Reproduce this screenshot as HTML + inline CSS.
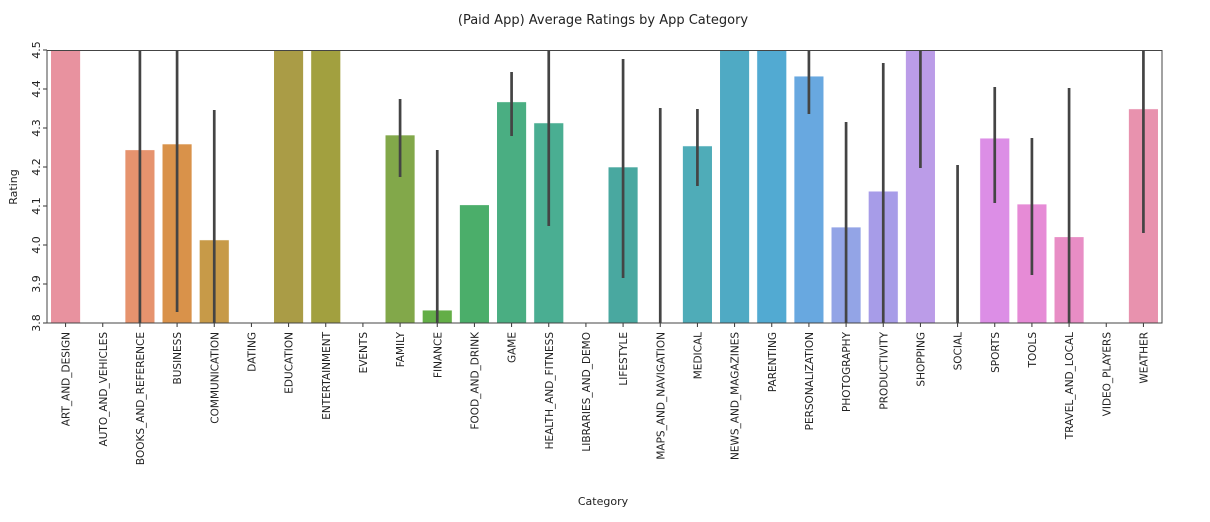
<!DOCTYPE html>
<html><head><meta charset="utf-8"><style>
html,body{margin:0;padding:0;background:#fff;}
svg{display:block;font-family:"DejaVu Sans","Liberation Sans",sans-serif;}
</style></head><body>
<svg id="s" width="1210" height="522" xmlns="http://www.w3.org/2000/svg">
<text x="603" y="24" font-size="13" text-anchor="middle" fill="#222">(Paid App) Average Ratings by App Category</text>
<text x="603" y="505" font-size="11" text-anchor="middle" fill="#222">Category</text>
<text transform="translate(17,187) rotate(-90)" font-size="11" text-anchor="middle" fill="#222">Rating</text>
</svg>
<script>
var s=document.getElementById('s'),NS='http://www.w3.org/2000/svg';
function el(t,a,txt){var e=document.createElementNS(NS,t);for(var k in a)e.setAttribute(k,a[k]);if(txt)e.textContent=txt;s.appendChild(e);return e;}
var L=47,R=1162,T=50.5,B=323,w=(R-L)/30;
function y(v){return B-(v-3.8)*390;}
var d=[
["ART_AND_DESIGN",4.6,"#e8929f",null],
["AUTO_AND_VEHICLES",null,"",null],
["BOOKS_AND_REFERENCE",4.244,"#e6936e",[50,323]],
["BUSINESS",4.259,"#d9924a",[50,312]],
["COMMUNICATION",4.013,"#c79a48",[110,323]],
["DATING",null,"",[0,0]],
["EDUCATION",4.6,"#aa9c46",null],
["ENTERTAINMENT",4.6,"#a2a03f",null],
["EVENTS",null,"",null],
["FAMILY",4.282,"#82a84a",[99,177]],
["FINANCE",3.833,"#63ae47",[150,323]],
["FOOD_AND_DRINK",4.103,"#4bae6a",null],
["GAME",4.367,"#4aae82",[72,136]],
["HEALTH_AND_FITNESS",4.313,"#4aae92",[50,226]],
["LIBRARIES_AND_DEMO",null,"",null],
["LIFESTYLE",4.2,"#49a8a0",[59,278]],
["MAPS_AND_NAVIGATION",null,"",[108,323]],
["MEDICAL",4.254,"#4facb8",[109,186]],
["NEWS_AND_MAGAZINES",4.6,"#4faac4",null],
["PARENTING",4.6,"#52aad2",null],
["PERSONALIZATION",4.433,"#68a8e0",[50,114]],
["PHOTOGRAPHY",4.046,"#93a4e6",[122,323]],
["PRODUCTIVITY",4.138,"#a79ce8",[63,323]],
["SHOPPING",4.6,"#bb9ce8",[50,168]],
["SOCIAL",null,"",[165,323]],
["SPORTS",4.274,"#dc8ee6",[87,203]],
["TOOLS",4.105,"#e68bd6",[138,275]],
["TRAVEL_AND_LOCAL",4.021,"#e88dc5",[88,323]],
["VIDEO_PLAYERS",null,"",null],
["WEATHER",4.349,"#e892ae",[50,233]]];
d.forEach(function(r,i){
 var c=L+w*(i+0.5);
 if(r[1]!==null){var t=Math.max(y(r[1]),T);el('rect',{x:c-w*0.4,y:t,width:w*0.8,height:B-t,fill:r[2],stroke:'#fff','stroke-width':0.6});}
 if(r[3]&&r[3][1]>r[3][0])el('line',{x1:c,x2:c,y1:r[3][0],y2:r[3][1],stroke:'#444','stroke-width':2.7});
 el('line',{x1:c,x2:c,y1:B,y2:B+4,stroke:'#333','stroke-width':1});
 el('text',{transform:'translate('+(c+4)+','+(B+9)+') rotate(-90)','font-size':10.5,'text-anchor':'end',fill:'#222'},r[0]);
});
for(var v=0;v<=7;v++){var val=3.8+v*0.1,yy=y(val);
 el('line',{x1:L-4,x2:L,y1:yy,y2:yy,stroke:'#333','stroke-width':1});
 el('text',{transform:'translate('+(L-7)+','+yy+') rotate(-90)','font-size':11,'text-anchor':'middle',fill:'#222'},val.toFixed(1));}
el('rect',{x:L,y:T,width:R-L,height:B-T,fill:'none',stroke:'#444','stroke-width':1});
</script>
</body></html>
